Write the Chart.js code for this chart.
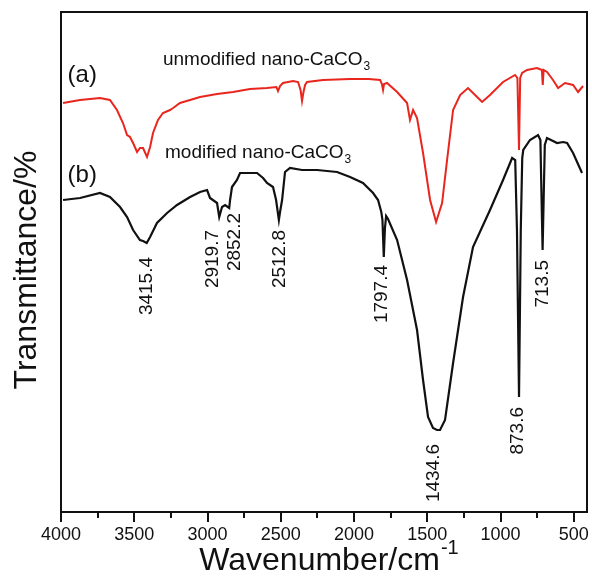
<!DOCTYPE html>
<html>
<head>
<meta charset="utf-8">
<script src="https://cdn.jsdelivr.net/npm/chart.js@4"></script>
<style>
  body { margin: 0; background: #fff; }
  canvas { display: block; }
</style>
</head>
<body>
<canvas id="ftir" width="592" height="578"></canvas>
<script>
// x ticks (wavenumber, cm-1)
const xTicks = [4000, 3500, 3000, 2500, 2000, 1500, 1000, 500];
const xMinorTicks = [3750, 3250, 2750, 2250, 1750, 1250, 750];

// (a) unmodified nano-CaCO3, transmittance in arbitrary units
const redWavenumber = [3986, 3870, 3734, 3666, 3618, 3577, 3549, 3529, 3508, 3481, 3461, 3440, 3413, 3392, 3372, 3338, 3304, 3256, 3235, 3188, 3119, 3051, 2935, 2826, 2710, 2594, 2530, 2519, 2505, 2485, 2416, 2382, 2365, 2355, 2345, 2334, 2321, 2212, 2027, 1900, 1822, 1810, 1802, 1795, 1775, 1706, 1638, 1618, 1597, 1570, 1529, 1481, 1440, 1399, 1365, 1324, 1276, 1222, 1160, 1126, 1072, 983, 901, 885, 874, 866, 853, 819, 751, 718, 712, 706, 683, 642, 607, 560, 505, 471, 437];
const redValues = [407, 410, 412, 410, 400, 387, 375, 373, 367, 358, 362, 362, 353, 363, 377, 390, 397, 400, 402, 407, 410, 413, 416, 418, 421, 422, 423, 419, 424, 427, 429, 428, 420, 409, 418, 425, 428, 430, 431, 431, 430, 426, 420, 426, 427, 418, 407, 390, 400, 392, 357, 310, 288, 307, 350, 400, 415, 422, 413, 408, 415, 428, 435, 432, 360, 432, 437, 440, 442, 440, 425, 440, 438, 430, 422, 427, 425, 418, 424];

// (b) modified nano-CaCO3
const blackWavenumber = [3986, 3870, 3734, 3666, 3597, 3549, 3508, 3461, 3440, 3415, 3392, 3345, 3276, 3208, 3119, 3051, 3003, 2983, 2935, 2920, 2901, 2880, 2852, 2846, 2833, 2799, 2778, 2662, 2621, 2594, 2553, 2532, 2513, 2505, 2491, 2471, 2437, 2355, 2252, 2116, 2027, 1939, 1870, 1836, 1814, 1806, 1797, 1789, 1781, 1768, 1706, 1638, 1570, 1529, 1495, 1461, 1434, 1413, 1379, 1324, 1256, 1188, 1072, 983, 921, 900, 888, 874, 862, 852, 845, 799, 744, 728, 720, 713, 706, 698, 683, 614, 573, 546, 505, 444];
const blackValues = [310, 312, 317, 313, 303, 293, 280, 270, 269, 267, 273, 287, 297, 305, 313, 318, 320, 312, 307, 293, 303, 305, 302, 310, 323, 330, 337, 337, 332, 327, 323, 310, 290, 298, 310, 338, 342, 340, 340, 338, 333, 327, 317, 310, 298, 290, 253, 282, 294, 291, 270, 230, 180, 130, 93, 82, 80, 80, 90, 147, 213, 263, 300, 330, 352, 350, 280, 113, 280, 352, 360, 370, 375, 370, 310, 260, 310, 365, 372, 367, 368, 367, 357, 337];

// peak labels on curve (b)
const peakLabels = ['3415.4', '2919.7', '2852.2', '2512.8', '1797.4', '1434.6', '873.6', '713.5'];
const peakLabelX = [3413, 2962, 2812, 2505, 1809, 1454, 880, 710];
const peakLabelTop = [253, 280, 297, 280, 245, 66, 103, 250];

const FONT = '"Liberation Sans", Arial, Helvetica, sans-serif';
const INK = '#111';

function toPoints(xs, ys) {
    return xs.map((x, i) => ({ x: x, y: ys[i] }));
}

function textWithIndex(ctx, main, idx, x, y, size, raise) {
    ctx.font = size + 'px ' + FONT;
    ctx.textAlign = 'left';
    ctx.textBaseline = 'middle';
    ctx.fillText(main, x, y);
    const w = ctx.measureText(main).width;
    ctx.font = Math.round(size * 0.62) + 'px ' + FONT;
    ctx.fillText(idx, x + w + 1, y + raise);
    return w + ctx.measureText(idx).width + 1;
}

const decorations = {
    id: 'decorations',
    afterDraw(chart) {
        const ctx = chart.ctx;
        const area = chart.chartArea;
        const xs = chart.scales.x;
        const ys = chart.scales.y;
        ctx.save();

        // frame
        ctx.strokeStyle = INK;
        ctx.lineWidth = 2;
        ctx.strokeRect(area.left, area.top, area.right - area.left, area.bottom - area.top);

        // minor ticks
        ctx.lineWidth = 2;
        xMinorTicks.forEach(v => {
            const px = Math.round(xs.getPixelForValue(v));
            ctx.beginPath();
            ctx.moveTo(px, area.bottom);
            ctx.lineTo(px, area.bottom + 6);
            ctx.stroke();
        });

        ctx.fillStyle = INK;

        // curve tags
        ctx.font = '24px ' + FONT;
        ctx.textAlign = 'left';
        ctx.textBaseline = 'middle';
        ctx.fillText('(a)', xs.getPixelForValue(3955), ys.getPixelForValue(435));
        ctx.fillText('(b)', xs.getPixelForValue(3955), ys.getPixelForValue(335));

        textWithIndex(ctx, 'unmodified nano-CaCO', '3', xs.getPixelForValue(3304), ys.getPixelForValue(450), 19, 7);
        textWithIndex(ctx, 'modified nano-CaCO', '3', xs.getPixelForValue(3290), ys.getPixelForValue(357), 19, 7);

        // peak labels
        ctx.font = '19px ' + FONT;
        peakLabels.forEach((t, i) => {
            ctx.save();
            ctx.translate(xs.getPixelForValue(peakLabelX[i]), ys.getPixelForValue(peakLabelTop[i]));
            ctx.rotate(-Math.PI / 2);
            ctx.textAlign = 'right';
            ctx.textBaseline = 'middle';
            ctx.fillText(t, 0, 0);
            ctx.restore();
        });

        // axis titles
        ctx.save();
        ctx.translate(27, (area.top + area.bottom) / 2 + 8);
        ctx.rotate(-Math.PI / 2);
        ctx.font = '32px ' + FONT;
        ctx.textAlign = 'center';
        ctx.textBaseline = 'middle';
        ctx.fillText('Transmittance/%', 0, 0);
        ctx.restore();

        ctx.font = '32px ' + FONT;
        const mainW = ctx.measureText('Wavenumber/cm').width;
        ctx.font = '19px ' + FONT;
        const supW = ctx.measureText('-1').width;
        const startX = (area.left + area.right) / 2 + 4 - (mainW + supW) / 2;
        textWithIndex(ctx, 'Wavenumber/cm', '-1', startX, 561, 32, -13);

        ctx.restore();
    }
};

new Chart(document.getElementById('ftir'), {
    type: 'line',
    data: {
        datasets: [
            {
                label: '(a) unmodified nano-CaCO3',
                data: toPoints(redWavenumber, redValues),
                borderColor: '#e8261e',
                borderWidth: 2,
                pointRadius: 0,
                tension: 0
            },
            {
                label: '(b) modified nano-CaCO3',
                data: toPoints(blackWavenumber, blackValues),
                borderColor: '#111',
                borderWidth: 2.2,
                pointRadius: 0,
                tension: 0
            }
        ]
    },
    options: {
        responsive: false,
        animation: false,
        devicePixelRatio: 1,
        layout: { padding: { top: 12, right: 5, left: 0, bottom: 0 } },
        plugins: {
            legend: { display: false },
            tooltip: { enabled: false },
            title: { display: false }
        },
        scales: {
            x: {
                type: 'linear',
                reverse: true,
                min: 410,
                max: 4000,
                afterBuildTicks: s => { s.ticks = xTicks.map(v => ({ value: v })); },
                afterFit: s => { s.height = 66; },
                border: { display: false },
                grid: {
                    display: true,
                    drawOnChartArea: false,
                    drawTicks: true,
                    tickLength: 10,
                    color: INK,
                    lineWidth: 2
                },
                ticks: {
                    autoSkip: false,
                    maxRotation: 0,
                    padding: 2,
                    color: INK,
                    font: { family: FONT, size: 18 },
                    callback: v => String(v)
                }
            },
            y: {
                type: 'linear',
                min: -2,
                max: 498,
                afterFit: s => { s.width = 61; },
                border: { display: false },
                grid: { display: false },
                ticks: { display: false }
            }
        }
    },
    plugins: [decorations]
});
</script>
</body>
</html>
